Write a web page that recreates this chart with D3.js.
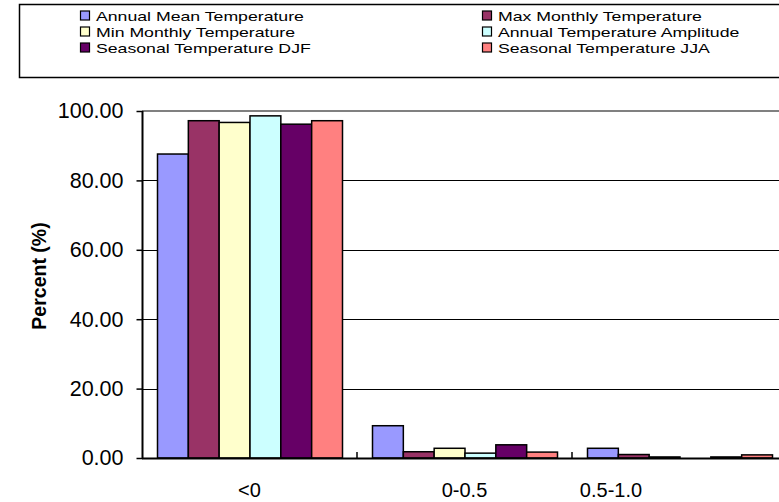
<!DOCTYPE html>
<html><head><meta charset="utf-8">
<script src="https://cdn.jsdelivr.net/npm/d3@7"></script>
<style>
html,body{margin:0;padding:0;background:#fff;overflow:hidden}
svg{display:block;font-family:"Liberation Sans",Arial,sans-serif}
</style></head>
<body>
<svg id="c" width="779" height="502"></svg>
<script>
const categories = ["<0", "0-0.5", "0.5-1.0"];
const seriesNames = ["Annual Mean Temperature", "Max Monthly Temperature", "Min Monthly Temperature",
  "Annual Temperature Amplitude", "Seasonal Temperature DJF", "Seasonal Temperature JJA"];
const seriesColors = ["#9999FF", "#993366", "#FFFFCC", "#CCFFFF", "#660066", "#FF8080"];
const annualMean = [87.6, 9.3, 2.8];
const maxMonthly = [97.2, 1.8, 1.0];
const minMonthly = [96.7, 2.8, 0.3];
const amplitude = [98.6, 1.4, 0.0];
const djf = [96.2, 3.8, 0.3];
const jja = [97.2, 1.7, 0.9];
const yTicks = [0, 20, 40, 60, 80, 100];

const seriesValues = [annualMean, maxMonthly, minMonthly, amplitude, djf, jja];
const svg = d3.select("#c");

const pLeft = 142, pBottom = 458, pTop = 111, bandW = 215;
const x = d3.scaleBand().domain(categories).range([pLeft, pLeft + bandW * categories.length]);
const xs = d3.scaleBand().domain(seriesNames).range([15.5, x.bandwidth() - 14.5]);
const y = d3.scaleLinear().domain([0, 100]).range([pBottom, pTop]);

// gridlines
svg.append("g").selectAll("line").data(yTicks.filter(d => d > 0 && d < 100)).join("line")
  .attr("x1", pLeft).attr("x2", 779).attr("y1", d => Math.round(y(d)) + 0.5).attr("y2", d => Math.round(y(d)) + 0.5)
  .attr("stroke", "#000").attr("stroke-width", 1);
svg.append("line").attr("x1", pLeft).attr("x2", 779).attr("y1", y(100)).attr("y2", y(100))
  .attr("stroke", "#808080").attr("stroke-width", 2);

// bars
const g = svg.append("g");
seriesNames.forEach((s, si) => {
  g.append("g").selectAll("rect").data(categories).join("rect")
    .attr("x", c => x(c) + xs(s))
    .attr("width", xs.bandwidth())
    .attr("y", (c, i) => y(seriesValues[si][i]))
    .attr("height", (c, i) => pBottom - y(seriesValues[si][i]))
    .attr("fill", seriesColors[si])
    .attr("stroke", "#000").attr("stroke-width", 1.5);
});

// y axis
const ya = svg.append("g").attr("transform", `translate(${pLeft + 0.5},0)`)
  .call(d3.axisLeft(y).tickValues(yTicks).tickFormat(d3.format(".2f")).tickSize(6).tickPadding(13));
ya.attr("font-size", null).attr("font-family", null);
ya.select(".domain").attr("stroke", "#000").attr("stroke-width", 2).attr("d", `M0,${pTop}V${pBottom}`);
ya.selectAll(".tick line").attr("stroke", "#000").attr("stroke-width", 1.5);
ya.selectAll(".tick text").style("font-size", "21.5px").attr("fill", "#000");

// x axis
const xa = svg.append("g").attr("transform", `translate(0,${pBottom})`);
xa.append("line").attr("x1", pLeft).attr("x2", 779).attr("y1", 0.5).attr("y2", 0.5)
  .attr("stroke", "#000").attr("stroke-width", 2);
xa.selectAll("line.t").data(categories.slice(1)).join("line").attr("class", "t")
  .attr("x1", c => x(c)).attr("x2", c => x(c)).attr("y1", 0).attr("y2", -6)
  .attr("stroke", "#000").attr("stroke-width", 1.5);
xa.selectAll("text").data(categories).join("text")
  .attr("x", (c, i) => i === categories.length - 1 ? x(c) + 39 : x(c) + x.bandwidth() / 2)
  .attr("y", 39).attr("text-anchor", "middle").style("font-size", "20px").attr("fill", "#000")
  .text(c => c);

// y label
svg.append("text").attr("transform", `translate(46,276) rotate(-90)`)
  .attr("text-anchor", "middle").style("font-size", "19.5px").attr("font-weight", "bold").attr("fill", "#000")
  .text("Percent (%)");

// legend
svg.append("rect").attr("x", 19.5).attr("y", 4.5).attr("width", 800).attr("height", 73)
  .attr("fill", "#fff").attr("stroke", "#000").attr("stroke-width", 1.5);
const lg = svg.append("g").selectAll("g").data(seriesNames).join("g")
  .attr("transform", (s, i) => `translate(${i % 2 === 0 ? 80 : 482},${15.5 + Math.floor(i / 2) * 16})`);
lg.append("rect").attr("x", 0.5).attr("y", -4.5).attr("width", 9).attr("height", 9)
  .attr("fill", (s, i) => seriesColors[i]).attr("stroke", "#000").attr("stroke-width", 1.2);
lg.append("text").attr("transform", "translate(16,5) scale(1.31,1)")
  .style("font-size", "13.5px").attr("fill", "#000").text(s => s);
</script>
</body></html>
